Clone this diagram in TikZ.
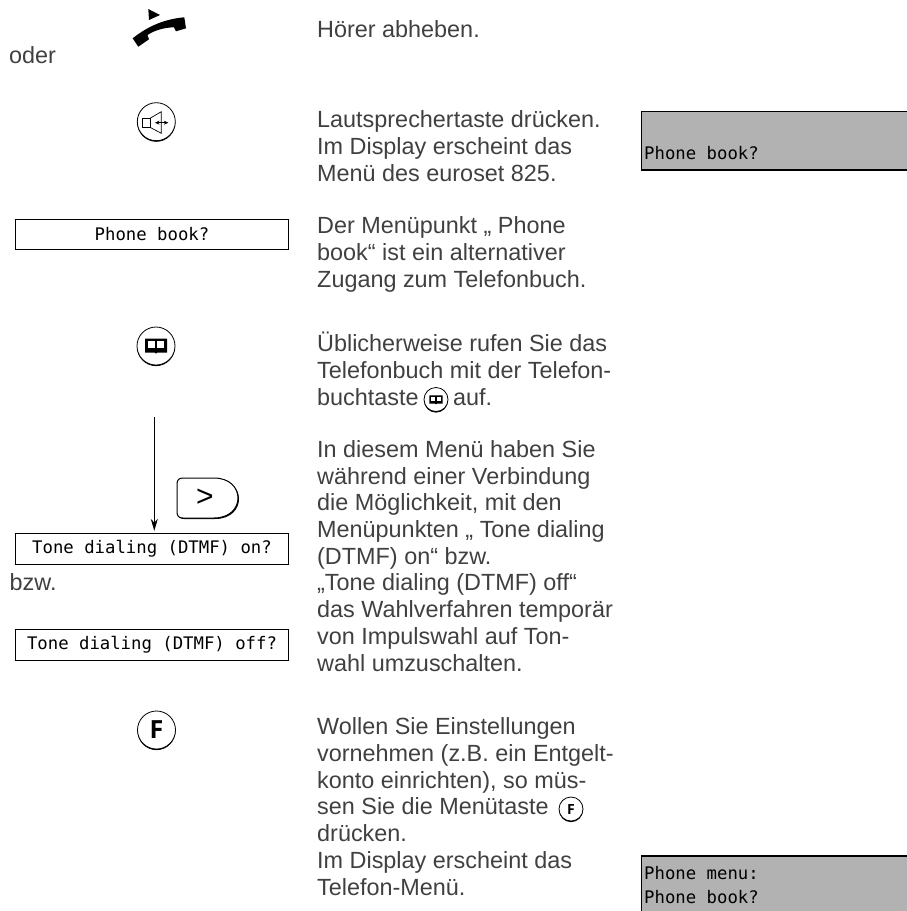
\documentclass[tikz,border=0pt]{standalone}
\usepackage{fontspec}
\setmainfont{Liberation Sans}
\newfontfamily\lcdfont{DejaVu Sans Mono}
\newfontfamily\keyfont{Open Sans}
\usetikzlibrary{positioning,arrows.meta}
\definecolor{lcdgray}{HTML}{B2B2B2}
\definecolor{inktext}{HTML}{404040}
\tikzset{
  bodytext/.style={anchor=base west,align=left,inner sep=0pt,text=inktext,
    font=\fontsize{23.4}{26.7}\selectfont},
  lcdbox/.style={draw,line width=.9pt,minimum width=273pt,minimum height=30.5pt,
    inner sep=0pt,font=\lcdfont\fontsize{17.3}{20}\selectfont},
  lcdgrey/.style={draw,line width=1.6pt,fill=lcdgray,anchor=north west,inner sep=0pt,
    minimum width=280pt},
  lcdtext/.style={anchor=base west,inner sep=0pt,font=\lcdfont\fontsize{17.3}{20}\selectfont},
  keyround/.style={circle,draw,fill=white,inner sep=0pt,line width=.8pt,minimum size=#1,
    preaction={fill=black,transform canvas={yshift=-1.1pt}}},
  bookicon/.pic={
    \fill (-11,-7) -- (11,-7) -- (11,7) -- (1.5,7) -- (0,8) -- (-1.5,7) -- (-11,7) -- cycle;
    \fill[white] (-7.7,-4.5) rectangle (-1.2,2.8);
    \fill[white] (1.2,-4.5) rectangle (7.7,2.8);
  }
}
\begin{document}
\begin{tikzpicture}[x=1pt,y=-1pt]
  \useasboundingbox (0,0) rectangle (906,911);

  % left column
  \node[bodytext] (oder) at (9,63) {oder};
  \node[bodytext] (bzw) at (9.5,590.5) {bzw.};
  \fill (132.7,38.3) -- (138.3,46.7) -- (149,39.3) -- (147.5,35)
    .. controls (155,30) and (165,27.5) .. (174,27.3) -- (176,31.3) -- (186,28.3) -- (184.3,17.3)
    .. controls (165,19) and (148,26) .. cycle;
  \fill (148.3,9) -- (160,15) -- (149,20) -- cycle;

  \node[keyround=38pt] (keyspeaker) at (156.3,121.7) {};
  \draw[line width=.7pt] (142.7,118.3) rectangle (150,127.3);
  \draw[line width=.7pt] (150,118.3) -- (161.3,111.7) -- (161.3,133.3) -- (150,127.3);
  \draw[{Stealth[length=4.5pt,width=4pt]}-{Stealth[length=4.5pt,width=4pt]},line width=.6pt]
    (155,122.7) -- (168.3,122.7);

  \foreach \n/\y/\t in {lcdbook/234.3/Phone book?,lcdon/549/Tone dialing (DTMF) on?,
    lcdoff/644.8/Tone dialing (DTMF) off?}
    \node[lcdbox] (\n) at (152,\y) {\t};

  \node[keyround=38pt] (keybook) at (156,346) {};
  \pic at (156,345.5) {bookicon};

  \coordinate (arrowtop) at (154.3,417);
  \draw[-{Stealth[length=12pt,width=7pt]},line width=.7pt,shorten >=2.5pt]
    (arrowtop) -- (arrowtop |- lcdon.north);

  \draw[line width=1pt,preaction={fill=black,transform canvas={xshift=1pt,yshift=-1pt}},fill=white]
    (183,478) -- (214,478) .. controls (230,478) and (238,488) .. (238,498)
    .. controls (238,508) and (230,518) .. (214,518) -- (183,518)
    .. controls (179,518) and (177,516) .. (177,512) -- (177,484)
    .. controls (177,480) and (179,478) .. (183,478) -- cycle;
  \node[inner sep=0pt,font=\fontsize{30}{30}\selectfont] (keynext) at (205,497.5) {>};

  \node[keyround=38pt,font=\keyfont\bfseries\fontsize{25}{25}\selectfont] (keyf) at (156.5,730) {F};

  % text column
  \node[bodytext] (txtlift) at (317,37) {Hörer abheben.};
  \node[bodytext] (txtspeaker) at (317,181) {Lautsprechertaste drücken.\\Im Display erscheint das\\Menü des euroset 825.};
  \node[bodytext] (txtbook) at (317,287) {Der Menüpunkt „ Phone\\book“ ist ein alternativer\\Zugang zum Telefonbuch.};
  \node[bodytext] (txtusual) at (317,405) {Üblicherweise rufen Sie das\\Telefonbuch mit der Telefon-\\buchtaste \hspace{28pt}auf.};
  \node[bodytext] (txttone) at (317,671) {In diesem Menü haben Sie\\während einer Verbindung\\die Möglichkeit, mit den\\Menüpunkten „ Tone dialing\\(DTMF) on“ bzw.\\„Tone dialing (DTMF) off“\\das Wahlverfahren temporär\\von Impulswahl auf Ton-\\wahl umzuschalten.};
  \node[bodytext] (txtmenu) at (317,895) {Wollen Sie Einstellungen\\vornehmen (z.B. ein Entgelt-\\konto einrichten), so müs-\\sen Sie die Menütaste \\drücken.\\Im Display erscheint das\\Telefon-Menü.};

  % inline keys
  \node[keyround=24pt] (inlinebook) at (436,399.5) {};
  \pic[scale=.6] at (436,399.5) {bookicon};
  \node[keyround=24pt,font=\keyfont\bfseries\fontsize{14}{14}\selectfont] (inlinef) at (571,809) {F};

  % right column
  \node[lcdgrey,minimum height=58.6pt] (lcdtop) at (640.7,110.7) {};
  \node[lcdtext] (lcdtoptext) at (644,159) {Phone book?};
  \node[lcdgrey,minimum height=70pt] (lcdlow) at (640.7,855) {};
  \node[lcdtext] (lcdlowa) at (644,879) {Phone menu:};
  \node[lcdtext] (lcdlowb) at (644,903) {Phone book?};
\end{tikzpicture}
\end{document}
